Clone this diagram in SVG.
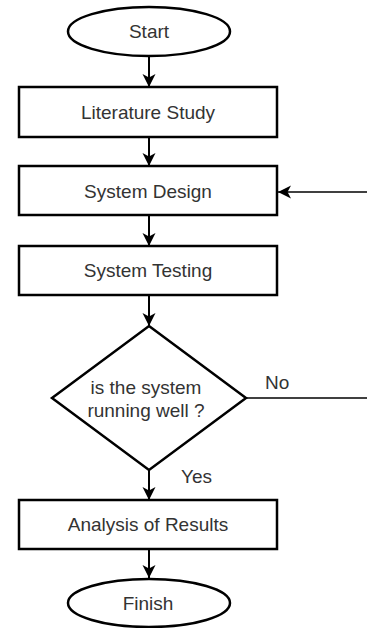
<svg xmlns="http://www.w3.org/2000/svg" width="367" height="628" viewBox="0 0 367 628">
<style>
.box{fill:#fff;stroke:#000;stroke-width:2.5}
.t{font-family:"Liberation Sans",Arial,sans-serif;font-size:19px;fill:#333;text-anchor:middle;dominant-baseline:central}
.c{fill:none;stroke:#000;stroke-width:2}
.c2{fill:none;stroke:#000;stroke-width:1.6}
.lbl{font-family:"Liberation Sans",Arial,sans-serif;font-size:19px;fill:#333;dominant-baseline:central}
</style>
<defs>
<marker id="arr" markerUnits="userSpaceOnUse" markerWidth="14" markerHeight="14" viewBox="0 0 14 14" refX="13" refY="7" orient="auto">
<path d="M0,0.5 L13,7 L0,13.5 L3.5,7 Z" fill="#000"/>
</marker>
</defs>
<rect width="367" height="628" fill="#fff"/>
<g id="connectors">
<line class="c" x1="149" y1="56" x2="149" y2="87" marker-end="url(#arr)"/>
<line class="c" x1="149" y1="137" x2="149" y2="166" marker-end="url(#arr)"/>
<line class="c" x1="149" y1="215" x2="149" y2="246" marker-end="url(#arr)"/>
<line class="c" x1="149" y1="295" x2="149" y2="326" marker-end="url(#arr)"/>
<line class="c" x1="149" y1="470" x2="149" y2="500" marker-end="url(#arr)"/>
<line class="c" x1="149" y1="549" x2="149" y2="578" marker-end="url(#arr)"/>
<line class="c2" x1="367" y1="192" x2="278" y2="192" marker-end="url(#arr)"/>
<line class="c2" x1="246" y1="398" x2="367" y2="398"/>
<text class="lbl" x="265" y="382">No</text>
<text class="lbl" x="181" y="476">Yes</text>
</g>
<g id="start">
<ellipse class="box" cx="149" cy="31.5" rx="81" ry="24.5"/>
<text class="t" x="149" y="31.5">Start</text>
</g>
<g id="literature">
<rect class="box" x="19" y="87" width="258" height="50"/>
<text class="t" x="148" y="112">Literature Study</text>
</g>
<g id="design">
<rect class="box" x="19" y="166" width="258" height="49"/>
<text class="t" x="148" y="191">System Design</text>
</g>
<g id="testing">
<rect class="box" x="19" y="246" width="258" height="49"/>
<text class="t" x="148" y="270">System Testing</text>
</g>
<g id="decision">
<polygon class="box" points="149,326 246,398 149,470 52,398"/>
<text class="t" x="146" y="387">is the system</text>
<text class="t" x="146" y="410">running well ?</text>
</g>
<g id="analysis">
<rect class="box" x="19" y="500" width="258" height="49"/>
<text class="t" x="148" y="524">Analysis of Results</text>
</g>
<g id="finish">
<ellipse class="box" cx="149" cy="603" rx="81" ry="24"/>
<text class="t" x="148" y="603">Finish</text>
</g>
</svg>
